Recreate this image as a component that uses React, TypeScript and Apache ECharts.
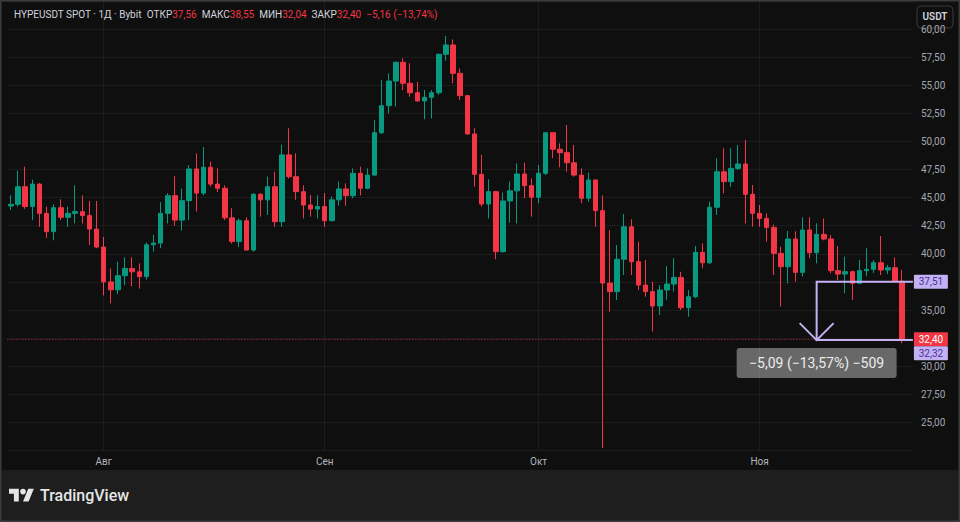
import React, { useEffect, useRef } from 'react';
import * as echarts from 'echarts';

// Daily candles HYPEUSDT (Bybit), 19 Jul 2025 – 21 Nov 2025
const firstDay = { y: 2025, m: 6, d: 19 }; // month zero-based
const opens = [
  44.25, 44.4, 45.97, 44.2, 46.2, 43.6, 41.97, 44.1, 43.25, 43.6,
  43.75, 43.4, 42.2, 40.6, 37.5, 36.8, 38.05, 38.7, 38.4, 37.97,
  40.8, 40.95, 43.6, 45.17, 43.0, 44.73, 47.55, 45.4, 47.7, 46.2,
  45.83, 43.2, 41.1, 42.95, 40.33, 45.3, 44.8, 45.97, 42.86, 48.8,
  46.86, 45.53, 44.34, 43.98, 44.2, 42.95, 44.8, 45.77, 45.17, 47.16,
  45.83, 47.0, 50.77, 53.18, 55.37, 57.04, 55.17, 54.33, 53.6, 53.92,
  54.33, 57.75, 58.58, 56.06, 54.07, 50.66, 47.07, 44.43, 45.53, 40.19,
  44.7, 45.6, 47.1, 46.06, 45.03, 47.16, 50.77, 49.3, 49.0, 48.1,
  47.0, 44.94, 46.57, 43.84, 37.4, 36.63, 39.51, 42.4, 39.3, 37.22,
  36.63, 35.36, 36.78, 37.31, 37.9, 35.2, 36.18, 40.13, 39.2, 44.14,
  47.3, 46.42, 47.6, 47.99, 45.29, 43.6, 43.15, 42.35, 40.04, 38.85,
  41.32, 38.35, 42.12, 40.1, 41.73, 41.32, 38.5, 38.2, 38.41, 37.37,
  38.5, 38.62, 39.2, 38.56, 38.76, 37.56,
];
const closes = [
  44.4, 45.97, 44.2, 46.2, 43.6, 41.97, 44.1, 43.25, 43.6, 43.75,
  43.4, 42.2, 40.6, 37.5, 36.8, 38.05, 38.7, 38.4, 37.97, 40.8,
  40.95, 43.6, 45.17, 43.0, 44.73, 47.55, 45.4, 47.7, 46.2, 45.83,
  43.2, 41.1, 42.95, 40.33, 45.3, 44.8, 45.97, 42.86, 48.8, 46.86,
  45.53, 44.34, 43.98, 44.2, 42.95, 44.8, 45.77, 45.17, 47.16, 45.83,
  47.0, 50.77, 53.18, 55.37, 57.04, 55.17, 54.33, 53.6, 53.92, 54.33,
  57.75, 58.58, 56.06, 54.07, 50.66, 47.07, 44.43, 45.53, 40.19, 44.7,
  45.6, 47.1, 46.06, 45.03, 47.16, 50.77, 49.3, 49.0, 48.1, 47.0,
  44.94, 46.57, 43.84, 37.4, 36.63, 39.51, 42.4, 39.3, 37.22, 36.63,
  35.36, 36.78, 37.31, 37.9, 35.2, 36.18, 40.13, 39.2, 44.14, 47.3,
  46.42, 47.6, 47.99, 45.29, 43.6, 43.15, 42.35, 40.04, 38.85, 41.32,
  38.35, 42.12, 40.1, 41.73, 41.32, 38.5, 38.2, 38.41, 37.37, 38.5,
  38.62, 39.2, 38.56, 38.76, 37.56, 32.4,
];
const lows = [
  43.9, 44.2, 44.0, 43.0, 42.4, 41.4, 41.2, 43.0, 42.4, 42.7,
  42.7, 40.8, 40.5, 36.3, 35.6, 36.4, 37.2, 37.1, 36.9, 37.7,
  40.2, 40.5, 42.7, 42.5, 42.05, 43.0, 43.75, 45.2, 45.97, 45.5,
  43.0, 40.9, 40.6, 40.28, 40.2, 43.3, 43.45, 42.4, 42.4, 46.7,
  44.8, 43.15, 43.3, 43.15, 42.4, 42.86, 44.28, 44.28, 44.94, 45.2,
  45.74, 46.95, 50.66, 52.5, 53.1, 54.57, 53.98, 53.53, 51.97, 52.05,
  54.13, 57.18, 55.17, 53.68, 50.6, 45.97, 44.2, 43.15, 39.51, 40.1,
  42.77, 42.7, 44.94, 43.3, 44.5, 47.0, 48.5, 47.7, 47.3, 46.86,
  44.5, 44.64, 42.4, 22.72, 34.85, 35.89, 38.11, 38.11, 36.78, 36.18,
  33.07, 34.55, 35.9, 36.63, 35.0, 34.4, 36.05, 38.71, 39.1, 43.45,
  45.38, 45.97, 47.46, 42.71, 42.41, 42.41, 41.08, 38.11, 35.3, 37.37,
  37.52, 37.97, 39.6, 39.15, 41.2, 38.26, 37.67, 36.48, 35.89, 37.3,
  38.0, 38.3, 38.1, 38.2, 37.43, 32.04,
];
const highs = [
  45.2, 47.4, 47.75, 46.6, 46.3, 44.2, 44.4, 44.85, 44.2, 46.1,
  45.2, 44.7, 44.7, 41.5, 38.7, 39.3, 39.7, 39.7, 39.15, 41.0,
  41.7, 44.6, 45.4, 46.9, 45.8, 47.9, 48.94, 49.5, 48.2, 47.6,
  46.1, 44.05, 43.15, 43.25, 45.4, 45.4, 46.86, 47.3, 49.7, 51.17,
  48.94, 46.1, 45.23, 45.2, 45.4, 45.1, 46.42, 46.27, 47.6, 47.75,
  47.6, 51.9, 55.46, 56.06, 57.1, 57.4, 56.95, 55.3, 54.57, 54.57,
  57.8, 59.38, 59.08, 56.5, 54.13, 51.17, 48.8, 46.63, 45.6, 45.44,
  46.42, 48.05, 48.1, 46.7, 47.9, 50.8, 50.8, 49.83, 51.46, 49.68,
  47.6, 47.22, 46.6, 45.2, 42.1, 40.78, 43.54, 43.07, 41.08, 39.45,
  37.52, 37.2, 38.9, 39.6, 38.4, 36.78, 40.7, 40.93, 44.64, 48.5,
  49.39, 49.39, 49.68, 50.12, 46.12, 44.34, 43.6, 42.6, 40.63, 42.03,
  42.0, 43.25, 43.25, 42.71, 43.15, 41.67, 40.7, 39.74, 38.5, 39.45,
  40.5, 39.45, 41.58, 39.0, 39.68, 38.55,
];

const monthNames = ['Янв', 'Фев', 'Мар', 'Апр', 'Май', 'Июн', 'Июл', 'Авг', 'Сен', 'Окт', 'Ноя', 'Дек'];
const hiddenTicks = [22.5, 32.5, 37.5, 62.5];
const yMin = 22.5;
const yMax = 62.5;
const yStep = 2.5;

const lastClose = 32.4;
const rangeTop = 37.51;
const rangeBottom = 32.32;
const rangeStartIndex = 113;
const rangeText = '−5,09 (−13,57%) −509';
const headerTitle = 'HYPEUSDT SPOT · 1Д · Bybit';
const headerOHLC = [
  ['ОТКР', '37,56'],
  ['МАКС', '38,55'],
  ['МИН', '32,04'],
  ['ЗАКР', '32,40'],
];
const headerChange = '−5,16 (−13,74%)';

const UP = '#089981';
const DOWN = '#f23645';
const LAV = '#c3b1f2';

const fmt = (v: number) => v.toFixed(2).replace('.', ',');

function buildDates(n: number): string[] {
  const out: string[] = [];
  for (let i = 0; i < n; i++) {
    const d = new Date(Date.UTC(firstDay.y, firstDay.m, firstDay.d + i));
    out.push(d.toISOString().slice(0, 10));
  }
  return out;
}

const LOGO_D =
  'M14 22H7V11H0V4h14v18zM28 22h-8l7.5-18h8L28 22zM24 8a4 4 0 1 1-8 0a4 4 0 0 1 8 0z';
let logoRegistered = false;

export default function App() {
  const ref = useRef<HTMLDivElement>(null);

  useEffect(() => {
    document.body.style.margin = '0';
    if (!logoRegistered) {
      echarts.graphic.registerShape('tvlogo', echarts.graphic.extendPath(LOGO_D, {}) as any);
      logoRegistered = true;
    }
    const chart = echarts.init(ref.current!, null, { renderer: 'svg' });

    const n = opens.length;
    const dates = buildDates(n + 1); // one empty slot on the right
    const candles: any[] = opens.map((o, i) => [o, closes[i], lows[i], highs[i]]);
    candles.push('-');

    const gridLeft = 7.4;
    const gridWidth = 905.5;
    const gridTop = 0.9;
    const gridHeight = 449.6;
    const gridRight = gridLeft + gridWidth;

    const monthStarts = dates.filter((d) => d.endsWith('-01'));

    chart.setOption({
      animation: false,
      backgroundColor: '#0f0f0f',
      grid: {
        left: gridLeft,
        top: gridTop,
        width: gridWidth,
        height: gridHeight,
        containLabel: false,
      },
      xAxis: {
        type: 'category',
        data: dates,
        boundaryGap: true,
        axisLine: { show: false },
        axisTick: { show: false },
        splitLine: { show: false },
        axisLabel: {
          interval: (_i: number, v: string) => v.endsWith('-01'),
          formatter: (v: string) => monthNames[parseInt(v.slice(5, 7), 10) - 1],
          color: '#b2b5be',
          fontSize: 10,
          fontFamily: 'Roboto',
          margin: 6,
        },
      },
      yAxis: {
        type: 'value',
        position: 'right',
        min: yMin,
        max: yMax,
        interval: yStep,
        axisLine: { show: false },
        axisTick: { show: false },
        splitLine: { show: true, lineStyle: { color: 'rgba(242,242,242,0.06)', width: 1 } },
        axisLabel: {
          formatter: (v: number) => (hiddenTicks.some((h) => Math.abs(h - v) < 1e-6) ? '' : fmt(v)),
          color: '#a3a6af',
          fontSize: 10,
          fontFamily: 'Roboto',
          margin: 8,
          align: 'left',
        },
      },
      series: [
        {
          type: 'candlestick',
          data: candles,
          barWidth: 5,
          itemStyle: {
            color: UP,
            color0: DOWN,
            borderColor: UP,
            borderColor0: DOWN,
            borderWidth: 1,
          },
          markLine: {
            silent: true,
            symbol: ['none', 'none'],
            label: { show: false },
            data: [
              {
                yAxis: lastClose,
                lineStyle: { color: DOWN, type: [1, 2], width: 1, opacity: 0.75 },
              },
              ...monthStarts.map((d) => ({
                xAxis: d,
                lineStyle: { color: 'rgba(242,242,242,0.06)', type: 'solid', width: 1 },
              })),
            ],
          },
        },
      ],
    });

    const px = (i: number, v: number) =>
      chart.convertToPixel({ xAxisIndex: 0, yAxisIndex: 0 }, [i, v]) as number[];
    const [xs, yTop] = px(rangeStartIndex, rangeTop);
    const [, yBot] = px(rangeStartIndex, rangeBottom);
    const [, yClose] = px(rangeStartIndex, lastClose);

    const tag = (y: number, text: string, fill: string, color: string) => ({
      type: 'group',
      z: 120,
      children: [
        { type: 'rect', shape: { x: gridRight + 1, y: y - 7, width: 34, height: 14, r: 1 }, style: { fill } },
        {
          type: 'text',
          style: {
            x: gridRight + 18,
            y,
            text,
            fill: color,
            fontSize: 10,
            fontFamily: 'Roboto',
            align: 'center',
            verticalAlign: 'middle',
          },
        },
      ],
    });

    const richParts: string[] = [`{w|${headerTitle}}`];
    headerOHLC.forEach(([k, v]) => richParts.push(`{w|  ${k}}{r|${v}}`));
    richParts.push(`{r|  ${headerChange}}`);

    chart.setOption({
      graphic: [
        // footer band
        { type: 'rect', z: 1, shape: { x: 0, y: 470, width: 960, height: 52 }, style: { fill: '#1e1e1e' } },
        // outer frame
        {
          type: 'rect',
          z: 200,
          shape: { x: 0.5, y: 0.5, width: 959, height: 521 },
          style: { fill: 'none', stroke: '#3c3c3c', lineWidth: 2 },
        },
        // header
        {
          type: 'text',
          z: 150,
          style: {
            x: 14,
            y: 14,
            text: richParts.join(''),
            verticalAlign: 'middle',
            rich: {
              w: { fill: '#d1d4dc', fontSize: 10, fontFamily: 'Roboto' },
              r: { fill: DOWN, fontSize: 10, fontFamily: 'Roboto' },
            },
          },
        },
        // USDT button
        {
          type: 'group',
          z: 150,
          children: [
            {
              type: 'rect',
              shape: { x: 917, y: 6, width: 36, height: 22, r: 4 },
              style: { fill: '#0f0f0f', stroke: '#3a3a3a', lineWidth: 1 },
            },
            {
              type: 'text',
              style: {
                x: 935,
                y: 16,
                text: 'USDT',
                fill: '#d1d4dc',
                fontSize: 10,
                fontWeight: 600,
                fontFamily: 'Roboto',
                align: 'center',
                verticalAlign: 'middle',
              },
            },
          ],
        },
        // price range tool
        {
          type: 'polyline',
          z: 110,
          shape: { points: [[gridRight, yTop], [xs, yTop], [xs, yBot], [gridRight, yBot]] },
          style: { stroke: LAV, lineWidth: 2, fill: 'none' },
        },
        {
          type: 'polyline',
          z: 110,
          shape: { points: [[xs - 17, yBot - 17], [xs, yBot], [xs + 17, yBot - 17]] },
          style: { stroke: LAV, lineWidth: 2, fill: 'none' },
        },
        {
          type: 'group',
          z: 115,
          children: [
            {
              type: 'rect',
              shape: { x: xs - 80, y: yBot + 8, width: 160, height: 30, r: 3 },
              style: { fill: 'rgba(120,120,120,0.85)' },
            },
            {
              type: 'text',
              style: {
                x: xs,
                y: yBot + 23,
                text: rangeText,
                fill: '#ececec',
                fontSize: 14,
                fontFamily: 'Roboto',
                align: 'center',
                verticalAlign: 'middle',
              },
            },
          ],
        },
        // axis price tags
        tag(yTop, fmt(rangeTop), LAV, '#4b2f9c'),
        tag(yClose, fmt(lastClose), DOWN, '#ffffff'),
        tag(yClose + 14, fmt(rangeBottom), LAV, '#4b2f9c'),
        // footer logo
        {
          type: 'tvlogo',
          z: 150,
          x: 9,
          y: 486,
          scaleX: 0.7,
          scaleY: 0.7,
          style: { fill: '#e6e6e6' },
        },
        {
          type: 'text',
          z: 150,
          style: {
            x: 40,
            y: 495,
            text: 'TradingView',
            fill: '#e6e6e6',
            fontSize: 16,
            fontWeight: 500,
            fontFamily: 'Roboto',
            verticalAlign: 'middle',
          },
        },
      ],
    });

    return () => chart.dispose();
  }, []);

  return <div ref={ref} style={{ width: 960, height: 522 }} />;
}
